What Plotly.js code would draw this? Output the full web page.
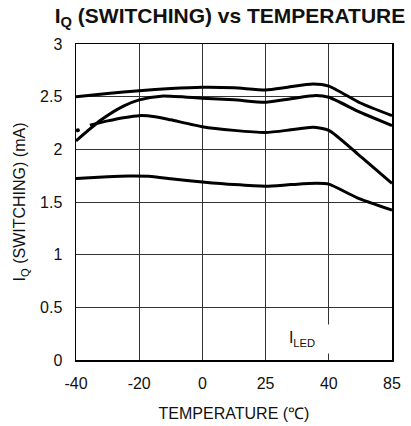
<!DOCTYPE html>
<html>
<head>
<meta charset="utf-8">
<script src="https://cdn.plot.ly/plotly-3.0.1.min.js"></script>
<style>html,body{margin:0;padding:0;background:#fff;}#chart{width:411px;height:426px;}</style>
</head>
<body>
<div id="chart"></div>
<script>
// Temperature tick labels (evenly spaced on the chart)
const tempLabels = ['-40', '-20', '0', '25', '40', '85'];
const tickPos = [0, 1, 2, 3, 4, 5];

// Curve 1 (top)
const c1x = [0, 0.5, 1, 1.5, 2, 2.5, 3, 3.35, 3.75, 4, 4.5, 5];
const c1y = [2.50, 2.53, 2.557, 2.578, 2.59, 2.585, 2.564, 2.59, 2.62, 2.60, 2.44, 2.32];

// Curve 2
const c2x = [0, 0.4, 0.75, 1, 1.35, 2, 2.5, 3, 3.4, 3.8, 4, 4.5, 5];
const c2y = [2.08, 2.28, 2.41, 2.47, 2.505, 2.485, 2.47, 2.447, 2.48, 2.51, 2.494, 2.35, 2.225];

// Curve 3
const c3x = [0.22, 0.5, 0.75, 1, 1.25, 1.5, 2, 2.5, 3, 3.4, 3.75, 4, 4.45, 5];
const c3y = [2.23, 2.27, 2.30, 2.32, 2.31, 2.28, 2.215, 2.18, 2.16, 2.185, 2.21, 2.18, 1.96, 1.677];
const c3dotX = [0.03];
const c3dotY = [2.18];

// Curve 4 (bottom)
const c4x = [0, 0.5, 0.85, 1.2, 1.5, 2, 2.5, 3, 3.4, 3.8, 4, 4.45, 5];
const c4y = [1.724, 1.74, 1.746, 1.742, 1.72, 1.69, 1.665, 1.65, 1.665, 1.677, 1.67, 1.54, 1.423];

const lineStyle = {color: '#000', width: 3, shape: 'spline', smoothing: 0.6};
const FONT = 'Liberation Sans, Arial, sans-serif';

const traces = [
  {x: c1x, y: c1y, mode: 'lines', line: lineStyle},
  {x: c2x, y: c2y, mode: 'lines', line: lineStyle},
  {x: c3x, y: c3y, mode: 'lines', line: lineStyle},
  {x: c3dotX, y: c3dotY, mode: 'markers', marker: {color: '#000', size: 4}},
  {x: c4x, y: c4y, mode: 'lines', line: lineStyle}
];

const layout = {
  width: 411, height: 426,
  margin: {l: 76, r: 19, t: 44, b: 66},
  paper_bgcolor: '#fff', plot_bgcolor: '#fff',
  showlegend: false,
  font: {family: FONT, color: '#111', size: 16},
  title: {
    text: '<b>I<sub>Q</sub> (SWITCHING) vs TEMPERATURE</b>',
    font: {family: FONT, size: 21, color: '#111'},
    x: 230 / 411, xanchor: 'center', xref: 'container',
    y: 1 - 8 / 426, yanchor: 'top', yref: 'container'
  },
  xaxis: {
    range: [0, 5],
    tickvals: tickPos, ticktext: tempLabels,
    showgrid: true, gridcolor: '#333', gridwidth: 1,
    zeroline: false,
    showline: true, linecolor: '#000', linewidth: 1.5, mirror: true,
    ticks: '', ticklabelstandoff: 8,
    tickfont: {family: FONT, size: 16, color: '#111'},
    title: {text: 'TEMPERATURE (℃)', font: {family: FONT, size: 16, color: '#111'}, standoff: 17}
  },
  yaxis: {
    range: [0, 3],
    tickvals: [0, 0.5, 1, 1.5, 2, 2.5, 3],
    ticktext: ['0', '0.5', '1', '1.5', '2', '2.5', '3'],
    showgrid: true, gridcolor: '#333', gridwidth: 1,
    zeroline: false,
    showline: true, linecolor: '#000', linewidth: 1.5, mirror: true,
    ticks: '', ticklabelstandoff: 9,
    tickfont: {family: FONT, size: 16, color: '#111'},
    title: {text: 'I<sub>Q</sub> (SWITCHING) (mA)', font: {family: FONT, size: 16, color: '#111'}, standoff: 10}
  },
  annotations: [{
    text: 'I<sub>LED</sub>',
    x: 3.58, y: 0.2, xref: 'x', yref: 'y',
    showarrow: false,
    font: {family: FONT, size: 16, color: '#111'},
    bgcolor: '#fff', width: 54, height: 26
  }]
};

Plotly.newPlot('chart', traces, layout, {displayModeBar: false, staticPlot: true});
</script>
</body>
</html>
